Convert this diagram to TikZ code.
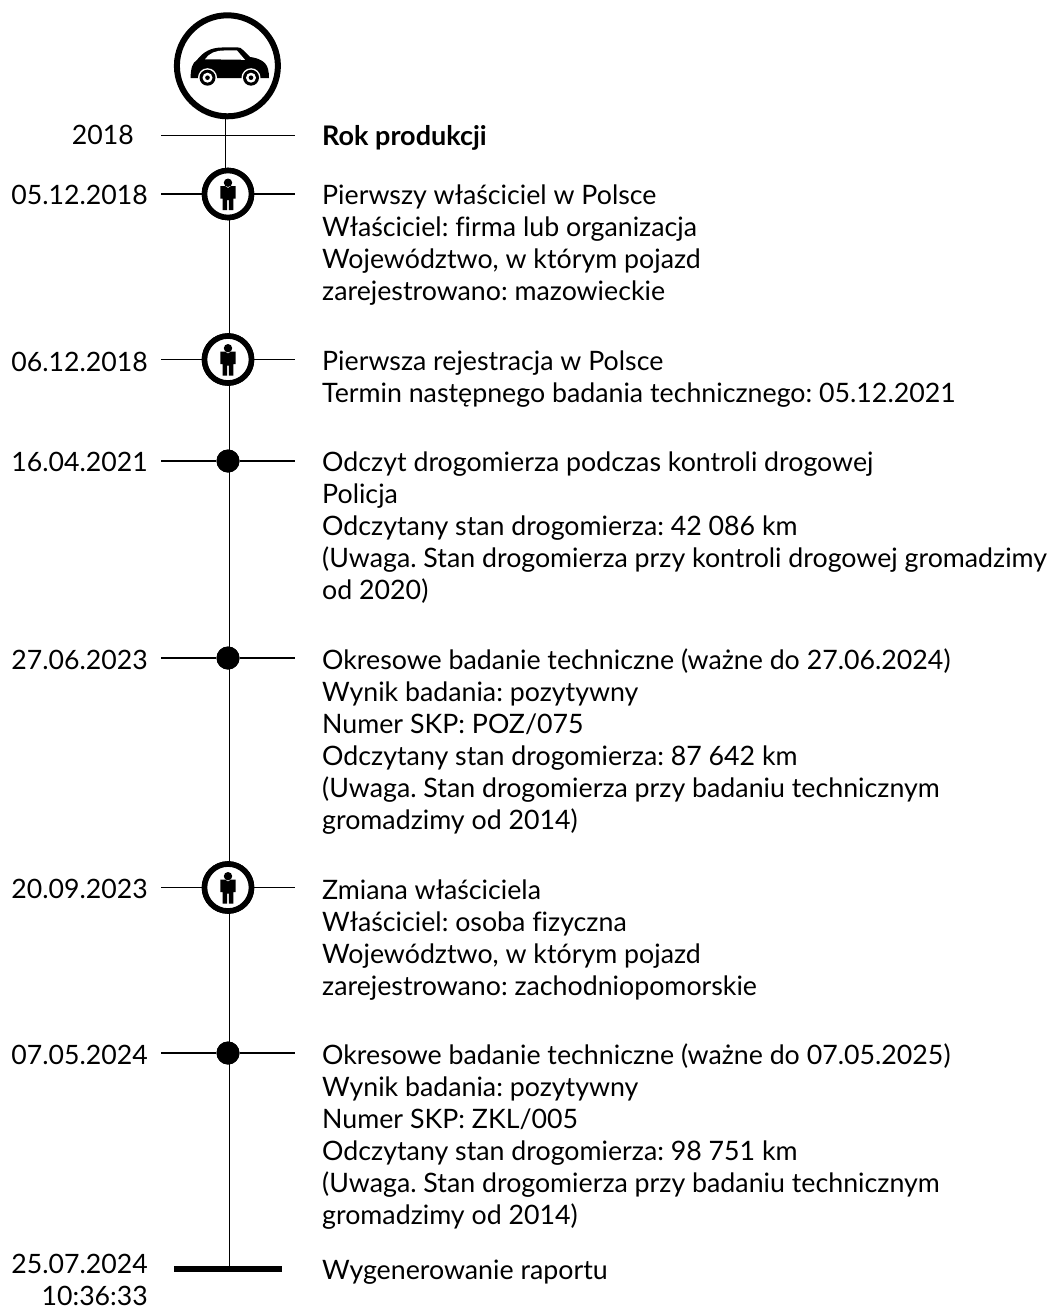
\documentclass[tikz,border=0pt]{standalone}
\usepackage{fontspec}
\setmainfont{Lato}[Numbers=Lining,Ligatures=NoCommon]
\tikzset{
  x=1pt,y=-1pt,
  conn/.style={line width=1.3pt,black},
  tick/.style={line width=1.25pt,black},
  ring/.style={circle,draw=black,line width=5.6pt,fill=white,minimum size=47pt,inner sep=0pt},
  dot/.style={circle,fill=black,minimum size=23pt,inner sep=0pt},
  txt/.style={anchor=north west,align=left,inner sep=0pt,font=\fontsize{26.75pt}{32pt}\selectfont\frenchspacing},
  dat/.style={anchor=north east,align=right,inner sep=0pt,font=\fontsize{26.67pt}{32pt}\selectfont\frenchspacing},
}
\newcommand{\personat}[2]{%
  \fill (#1,#2-11.3) circle (4.2);
  \fill (#1-7.6,#2-8) -- (#1-3,#2-8) -- (#1,#2-6) -- (#1+3,#2-8) -- (#1+7.6,#2-8) -- (#1+7.6,#2+4.5)
    -- (#1+5.3,#2+4.5) -- (#1+5.3,#2+16) -- (#1+.8,#2+16) -- (#1+.8,#2+6) -- (#1-.8,#2+6) -- (#1-.8,#2+16) -- (#1-5.3,#2+16) -- (#1-5.3,#2+4.5) -- (#1-7.6,#2+4.5) -- cycle;}
\begin{document}
\begin{tikzpicture}
\useasboundingbox (0,0) rectangle (1053,1306);
\coordinate (y18) at (225.5,135.3);
\coordinate (sp) at (229.2,0);
\node[ring,minimum size=101pt,line width=6pt] (car) at (227.4,65.8) {};
\node[ring] (p1) at (228,194) {};
\node[ring] (p2) at (228,359.5) {};
\node[dot] (d1) at (228,461) {};
\node[dot] (d2) at (228,658) {};
\node[ring] (p3) at (228,887.5) {};
\node[dot] (d3) at (228,1053) {};
\coordinate (endl) at (174,1269);
\coordinate (endr) at (282,1269);
\coordinate (endm) at (229.2,1269);
\draw[conn] (car.south -| y18) -- (y18) -- (y18 |- p1.north);
\draw[conn] (p1 -| sp) -- (p2 -| sp);
\draw[conn] (p2 -| sp) -- (d1 -| sp);
\draw[conn] (d1 -| sp) -- (d2 -| sp);
\draw[conn] (d2 -| sp) -- (p3 -| sp);
\draw[conn] (p3 -| sp) -- (d3 -| sp);
\draw[conn] (d3 -| sp) -- (endm);
\draw[line width=6pt] (endl) -- (endr);
\coordinate (a0) at (161,135.3); \coordinate (b0) at (295,135.3);
\draw[conn] (a0) -- (b0);
\foreach \n/\yy in {p1/194,p2/359.5,d1/461,d2/658,p3/887.5,d3/1053}{
  \coordinate (a\n) at (161,\yy); \coordinate (b\n) at (295,\yy);
  \draw[tick] (a\n) -- (\n);
  \draw[tick] (\n) -- (b\n);
}
\foreach \n/\yy in {p1/194,p2/359.5,p3/887.5}{
  \node[ring] at (228,\yy) {};
  \personat{228}{\yy}
}
\foreach \yy in {461,658,1053}{ \node[dot] at (228,\yy) {}; }
\fill (190.5,78) .. controls (191,68) and (192,63) .. (197,60)
  .. controls (203,52) and (211,47.5) .. (222,47.5) -- (238,47.5)
  .. controls (240,47.5) and (241,48) .. (243,50)
  -- (250,57) .. controls (258,58) and (266,61) .. (268,69)
  .. controls (269,72) and (269,76) .. (269,78) -- cycle;
\fill[white] (205,59.3) .. controls (209,53) and (216,50.5) .. (224,50.5) -- (237,50.5) -- (245,59.8) -- cycle;
\foreach \cx in {207.5,251}{
  \fill[white] (\cx,77.7) circle (9.5);
  \fill (\cx,77.7) circle (8);
  \fill[white] (\cx,77.7) circle (5);
  \fill (\cx,77.7) circle (2.3);
}
\node[dat] (t0) at (134,125) {2018};
\node[dat] (t1) at (148,185) {05.12.2018};
\node[dat] (t2) at (148,351.5) {06.12.2018};
\node[dat] (t3) at (148,452) {16.04.2021};
\node[dat] (t4) at (148,650) {27.06.2023};
\node[dat] (t5) at (148,879) {20.09.2023};
\node[dat] (t6) at (148,1045) {07.05.2024};
\node[dat] (t7) at (148,1253.5) {25.07.2024\\10:36:33};
\node[txt,font=\fontsize{27pt}{32pt}\selectfont\bfseries] (r0) at (322,125) {Rok produkcji};
\node[txt] (r1) at (322,185) {Pierwszy właściciel w Polsce\\Właściciel: firma lub organizacja\\Województwo, w którym pojazd\\zarejestrowano: mazowieckie};
\node[txt] (r2) at (322,351) {Pierwsza rejestracja w Polsce\\Termin następnego badania technicznego: 05.12.2021};
\node[txt] (r3) at (322,452) {Odczyt drogomierza podczas kontroli drogowej\\Policja\\Odczytany stan drogomierza: 42 086 km\\(Uwaga. Stan drogomierza przy kontroli drogowej gromadzimy\\od 2020)};
\node[txt] (r4) at (322,649) {Okresowe badanie techniczne (ważne do 27.06.2024)\\Wynik badania: pozytywny\\Numer SKP: POZ/075\\Odczytany stan drogomierza: 87 642 km\\(Uwaga. Stan drogomierza przy badaniu technicznym\\gromadzimy od 2014)};
\node[txt] (r5) at (322,880) {Zmiana właściciela\\Właściciel: osoba fizyczna\\Województwo, w którym pojazd\\zarejestrowano: zachodniopomorskie};
\node[txt] (r6) at (322,1043.5) {Okresowe badanie techniczne (ważne do 07.05.2025)\\Wynik badania: pozytywny\\Numer SKP: ZKL/005\\Odczytany stan drogomierza: 98 751 km\\(Uwaga. Stan drogomierza przy badaniu technicznym\\gromadzimy od 2014)};
\node[txt] (r7) at (322,1260) {Wygenerowanie raportu};
\end{tikzpicture}
\end{document}
